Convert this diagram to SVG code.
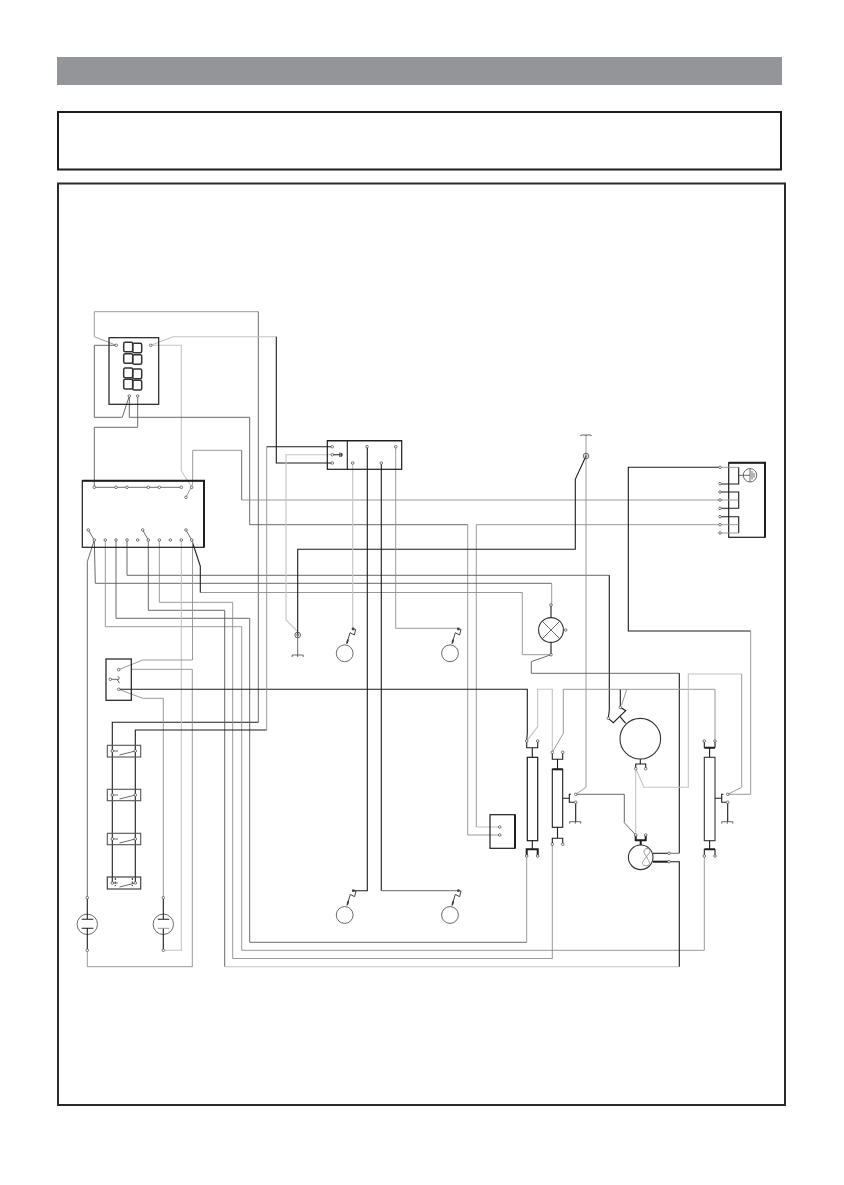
<svg xmlns="http://www.w3.org/2000/svg" width="844" height="1185" viewBox="0 0 844 1185">
<style>
path,line,rect,circle,ellipse{fill:none}
.k{stroke:#1d1d1b;stroke-width:1.1}
.d{stroke:#5a5a5a;stroke-width:.9}
.g{stroke:#8e8e8e;stroke-width:.9}
.l{stroke:#c4c4c4;stroke-width:1.1}
.b{stroke:#1d1d1b;stroke-width:1.2}
.t{stroke:#1d1d1b;stroke-width:2}
.s{stroke:#444;stroke-width:.8}
.p{fill:#fff;stroke:#444;stroke-width:.7}
.dot{fill:#444}
.dg{stroke:#333;stroke-width:1.5}
</style>
<defs>
<circle id="p" class="p" r="1.3"/>
<g id="sw"><path class="s" d="M112.300 0H118M119.500 4L135.300 0"/><circle class="p" cx="112.300" r="1.300"/><circle class="p" cx="135.300" r="1.300"/></g>
<path id="gnd" class="s" d="M-5.500 2V0H5.500V2M0 0V2"/>
<g id="zig"><path stroke="#444" stroke-width="1" d="M0 0L2.700 .3L1.300 6L-3 3.700L-6.300 15"/><path stroke="#333" stroke-width="1.600" d="M-5 10.500L-6 14"/></g>
</defs>
<rect id="header-band" x="57" y="57" width="725" height="28" style="fill:#939598"/>
<rect id="title-box" x="58" y="112" width="723" height="57.500" stroke="#1d1d1b" stroke-width="2"/>
<rect id="frame" x="58" y="183.500" width="727" height="921.500" stroke="#2a2a2a" stroke-width="2"/>
<g id="connectors">
<path class="g" d="M116.300 345.300L94.300 336.700V311.700H258.300"/>
<path class="d" d="M258.300 311.700V722.300"/>
<path class="k" d="M258.300 722.300H112.300V883"/>
<path class="l" d="M150.700 345.300L173.300 336.700H276.300"/>
<path class="k" d="M276.300 336.700V463H332.300"/>
<path class="d" d="M116.300 345.300H94.300V417.300H122.300L129.300 396"/>
<path class="l" d="M150.700 345.300H181.300V470.700L191.700 487.300"/>
<path class="d" d="M129.300 396V417.300H249.700V524.700H467.700"/>
<path class="g" d="M467.700 524.700V835H499.700"/>
<path class="g" d="M476.300 827V524.700H720"/>
<path class="l" d="M476.300 827H499.700"/>
<path class="d" d="M137.700 396V427.300H94.300V487.300"/>
<path class="g" d="M186 497.300L192.700 484V450.300H241.700"/>
<path class="d" d="M241.700 450.300V500"/>
<path class="g" d="M241.700 500H720"/>
<path class="d" d="M94.300 487.300H181.300"/>
<path class="d" d="M88.300 530L94.300 540M142.700 530L148.300 540M186 530L191.700 540"/>
<path class="d" d="M94.300 540L87.300 561.700V897.700"/>
<path class="d" d="M94.300 540L95.300 583.300H551.700"/>
<path class="g" d="M551.700 583.300V605"/>
<path class="g" d="M105.300 540V626.700H241.700"/>
<path class="g" d="M241.700 626.700V950.300H704.300V856"/>
<path class="d" d="M116 540V618.300H249.700V942.300H526.700"/>
<path class="g" d="M526.700 942.300V856"/>
<path class="d" d="M148.300 540V610.300H224.700V966.700"/>
<path class="l" d="M224.700 966.700H679.300"/>
<path class="k" d="M679.300 966.700V861.700H669"/>
<path class="g" d="M159.300 540V602.300H232.700V958.500H552.300V844.300"/>
<path class="d" d="M127 540V575.300H609.300"/>
<path class="k" d="M609.300 575.300V710L608.300 718.300"/>
<path class="g" d="M200.300 592.500H522.300V654.700H551"/>
<path class="k" d="M191.700 540L200.300 566V592.500"/>
<path class="l" d="M181.300 540V950.300H163.300"/>
<path class="g" d="M192.500 540V660H142.700L118.700 669.700"/>
<path class="g" d="M131.300 669.300H192.300V966.700H87.300V950.300"/>
<path class="g" d="M118.700 689.300L142.700 698.300H163.300V897.700"/>
<path class="k" d="M118.700 689.300H527.300V733L526.700 741"/>
<path class="k" d="M135.300 883V730H266.700"/>
<path class="g" d="M266.700 730V446.700"/>
<path class="k" d="M266.700 446.700H332.300"/>
<path class="l" d="M332.300 454.700H286V620L297.700 631.700"/>
<path class="k" d="M297.700 635V549.300H575.300V479.300L586 456"/>
<path class="s" d="M297.700 635V655"/>
<path class="g" d="M586 435V787.300L575.700 794.300"/>
<path class="k" d="M367.300 446.700V890.700H353.300"/>
<path class="k" d="M381.300 463V890.700"/>
<path class="d" d="M381.300 890.700H458.300"/>
<path class="l" d="M352.700 463V629"/>
<path class="g" d="M395.700 446.700V628.300H458.300"/>
<path class="k" d="M720 467.300H628.300V631H750.700"/>
<path class="g" d="M750.700 631V794.300H727.700"/>
<path class="d" d="M551 654.700L531.300 661.700V673.300H679.300"/>
<path class="k" d="M679.300 673.300V853.300"/>
<path class="d" d="M679.300 853.300H669"/>
<path class="l" d="M526.700 741L537.700 726.700V689.300H552.300V752.300"/>
<path class="g" d="M552.300 752.300L563.300 733.300V689.300H620"/>
<path class="k" d="M620.300 689.300V707.300"/>
<path class="g" d="M620 689.300H715V741M626.700 689.300L621.700 705"/>
<path class="l" d="M635.700 768.700L644 787.300H688.300V674H741.700"/>
<path class="g" d="M741.700 674V787.300L727.700 794.300"/>
<path class="l" d="M635.700 768.700V835"/>
<path class="d" d="M575.700 794.300H624.300V822.700L635.700 835"/>
</g>
<g id="display">
<rect class="b" x="109" y="337.700" width="49.700" height="66.600"/>
<rect class="dg" x="123.700" y="342.300" width="9" height="9.400" rx="1.500"/><rect class="dg" x="132.700" y="343.300" width="9" height="9.400" rx="1.500"/>
<rect class="dg" x="123.700" y="353.700" width="9" height="9.600" rx="1.500"/><rect class="dg" x="132.700" y="354.700" width="9" height="9.600" rx="1.500"/>
<rect class="dg" x="123.700" y="368" width="9" height="9.700" rx="1.500"/><rect class="dg" x="132.700" y="369" width="9" height="9.700" rx="1.500"/>
<rect class="dg" x="123.700" y="379.300" width="9" height="9.700" rx="1.500"/><rect class="dg" x="132.700" y="380.300" width="9" height="9.700" rx="1.500"/>
<use href="#p" x="116.300" y="345.300"/><use href="#p" x="150.700" y="345.300"/><use href="#p" x="129.300" y="396"/><use href="#p" x="137.700" y="396"/>
</g>
<g id="controller">
<rect class="b" x="82.300" y="480.700" width="121.700" height="66.600"/>
<path class="t" d="M82.300 480.700H204V547.300"/>
<use href="#p" x="94.300" y="487.300"/><use href="#p" x="116" y="487.300"/><use href="#p" x="127" y="487.300"/><use href="#p" x="148.300" y="487.300"/><use href="#p" x="159.300" y="487.300"/><use href="#p" x="181.300" y="487.300"/><use href="#p" x="191.700" y="487.300"/><use href="#p" x="186" y="497.300"/>
<use href="#p" x="88.300" y="530"/><use href="#p" x="142.700" y="530"/><use href="#p" x="186" y="530"/>
<use href="#p" x="94.300" y="540"/><use href="#p" x="105.300" y="540"/><use href="#p" x="116" y="540"/><use href="#p" x="127" y="540"/><use href="#p" x="137.700" y="540"/><use href="#p" x="148.300" y="540"/><use href="#p" x="159.300" y="540"/><use href="#p" x="170.300" y="540"/><use href="#p" x="181.300" y="540"/><use href="#p" x="191.700" y="540"/>
</g>
<g id="relay">
<rect class="b" x="106" y="659" width="25.300" height="41.300"/>
<path class="s" d="M110.300 679.300H118.700M117.500 676L119.500 678L117.500 680L119.500 683"/>
<use href="#p" x="118.700" y="669.700"/><use href="#p" x="118.700" y="689.300"/><use href="#p" x="110.300" y="679.300"/>
</g>
<g id="switch-1"><rect x="107.300" y="745.300" width="33.400" height="11.700" stroke="#555" stroke-width="1.100"/><use href="#sw" y="751"/></g>
<g id="switch-2"><rect x="107.300" y="789.300" width="33.400" height="11.400" stroke="#555" stroke-width="1.100"/><use href="#sw" y="795"/></g>
<g id="switch-3"><rect x="107.300" y="833.300" width="33.400" height="11.400" stroke="#555" stroke-width="1.100"/><use href="#sw" y="839"/></g>
<g id="switch-4"><rect x="107.300" y="877" width="33.400" height="12" stroke="#444" stroke-width="1.200"/><path d="M115.300 878V886M132.300 878V886" stroke="#222" stroke-width="1" stroke-dasharray="2 1.500"/><use href="#sw" y="883"/></g>
<g id="tube-1"><circle class="s" cx="87.300" cy="924.300" r="10.200"/><path class="k" d="M87.300 897.700V919.300M81.700 919.300H93.300M81.700 928.300H93.300M87.300 928.300V950.300"/><use href="#p" x="87.300" y="897.700"/><use href="#p" x="87.300" y="950.300"/></g>
<g id="tube-2"><circle class="s" cx="163.300" cy="924.300" r="10.200"/><path class="k" d="M163.300 897.700V919.300M157.700 919.300H169.300M163.300 928.300V950.300"/><path class="g" d="M157.700 928.300H169.300"/><use href="#p" x="163.300" y="897.700"/><use href="#p" x="163.300" y="950.300"/></g>
<g id="terminal-block">
<rect class="b" x="327.300" y="440.700" width="74.400" height="28.600"/>
<path class="b" d="M327.300 440.700H401.700" stroke-width="1.500"/>
<path class="k" d="M347.300 440.700V469.300M332.300 454.700H340M340 452.500V457"/>
<path d="M341.500 453V456.500L342.500 454.700Z" stroke="#222" stroke-width=".8"/>
<use href="#p" x="332.300" y="446.700"/><use href="#p" x="332.300" y="454.700"/><use href="#p" x="332.300" y="463"/><use href="#p" x="367" y="446.700"/><use href="#p" x="395.700" y="446.700"/><use href="#p" x="352.700" y="463"/><use href="#p" x="381.300" y="463"/>
</g>
<g id="ground-screw-1"><circle class="s" cx="297.700" cy="635" r="2.800"/><circle cx="297.700" cy="635" r="1.100" stroke="#555" stroke-width=".6"/><use href="#gnd" x="297.700" y="655"/></g>
<g id="ground-screw-2"><circle class="s" cx="586" cy="456" r="2.800"/><circle cx="586" cy="456" r="1.100" stroke="#555" stroke-width=".6"/><path class="s" d="M580.500 436L581 435H591L591.500 436M586 435V436"/></g>
<g id="burner-1"><circle class="s" cx="344.700" cy="653.300" r="8.400"/><use href="#zig" x="353" y="629"/><circle class="dot" cx="353" cy="629" r="1.400"/></g>
<g id="burner-2"><circle class="s" cx="450" cy="653.300" r="8.400"/><use href="#zig" x="458.300" y="629"/><circle class="dot" cx="458.300" cy="629" r="1.400"/></g>
<g id="burner-3"><circle class="s" cx="344.700" cy="915" r="8.400"/><use href="#zig" x="353.300" y="890.700"/><circle class="dot" cx="353.300" cy="890.700" r="1.400"/></g>
<g id="burner-4"><circle class="s" cx="450" cy="915" r="8.400"/><use href="#zig" x="458.300" y="890.700"/><circle class="dot" cx="458.300" cy="890.700" r="1.400"/></g>
<g id="lamp">
<circle stroke="#333" stroke-width="1.100" cx="551" cy="630" r="12.400"/>
<path class="s" d="M542.300 621.300L559.700 638.700M559.700 621.300L542.300 638.700"/>
<path class="k" d="M551 605V617.500M551 642.500V654.700"/>
<use href="#p" x="551" y="605"/><use href="#p" x="551" y="654.700"/><use href="#p" x="565.700" y="630"/>
</g>
<g id="power-filter">
<rect class="b" x="728.700" y="462.700" width="36.300" height="74.600"/>
<path class="t" d="M728.700 462.700H765V537.300"/>
<path class="k" d="M720 484H738.700V467.300M720 492H738.700V508.300H720M720 516.700H738.700V533"/>
<path class="g" d="M720 500H738.700M720 524.700H738.700M720 533H738.700M720 467.300H738.700"/>
<path class="s" d="M738.700 475.300H750M750 468.600V482M752 471V479.500M754 473V477.500"/>
<circle class="s" cx="750" cy="475.300" r="6.700"/>
<use href="#p" x="720" y="467.300"/><use href="#p" x="720" y="483.700"/><use href="#p" x="720" y="492"/><use href="#p" x="720" y="500"/><use href="#p" x="720" y="508.300"/><use href="#p" x="720" y="516.700"/><use href="#p" x="720" y="524.700"/><use href="#p" x="720" y="533"/>
</g>
<g id="box-5">
<rect class="b" x="490" y="814.700" width="25" height="33.600"/>
<path class="t" d="M515 814.700V848.300" stroke-width="1.500"/>
<use href="#p" x="499.700" y="827"/><use href="#p" x="499.700" y="835"/>
</g>
<g id="element-a">
<rect class="b" x="527.300" y="757.300" width="10.400" height="83.400"/>
<path class="k" d="M532.300 757.300V747.700M526.700 741V747.700H537.700V741M532.300 840.700V849.300"/><path class="t" d="M526.700 856V849.300H537.700V856" stroke-width="1.300"/>
<use href="#p" x="526.700" y="741"/><use href="#p" x="537.700" y="741"/><use href="#p" x="526.700" y="856"/><use href="#p" x="537.700" y="856"/>
</g>
<g id="element-b">
<rect class="k" x="552.300" y="769.300" width="10.400" height="58"/>
<path class="t" d="M552.300 769.300H562.700"/>
<path class="k" d="M557.500 769.300V759.300M552.300 752.300V759.300H562.700V752.300M557.500 827.300V838.300M552.300 844.300V838.300H562.700V844.300M562.700 798.300H569.300M571 794.300H569.300V802.300H575.700V821.700"/>
<use href="#gnd" x="575.200" y="821.700"/>
<use href="#p" x="552.300" y="752.300"/><use href="#p" x="562.700" y="752.300"/><use href="#p" x="552.300" y="844.300"/><use href="#p" x="562.700" y="844.300"/><use href="#p" x="575.700" y="794.300"/><use href="#p" x="575.700" y="802.300"/>
</g>
<g id="element-c">
<rect x="704.300" y="757.300" width="10.700" height="83.400" stroke="#333" stroke-width="1.100"/>
<path class="t" d="M704.300 747.700H715M704.300 849.300H715"/>
<path class="k" d="M709.600 757.300V747.700M704.300 741V747.700M715 741V747.700M709.600 840.700V849.300M704.300 856V849.300M715 856V849.300M715 798.300H721.700M723.500 794.300H721.700V802.300H727.700V821.700"/>
<use href="#gnd" x="727.300" y="821.700"/>
<use href="#p" x="704.300" y="741"/><use href="#p" x="715" y="741"/><use href="#p" x="704.300" y="856"/><use href="#p" x="715" y="856"/><use href="#p" x="727.700" y="794.300"/><use href="#p" x="727.700" y="802.300"/>
</g>
<g id="motor">
<circle stroke="#333" stroke-width="1.100" cx="640.300" cy="738.700" r="20.300"/>
<path class="k" d="M608.300 718.300L613.300 722.700L625.700 710.700L620.300 707.300M620 716.700L625.700 723.300"/>
<path class="k" d="M640.300 759V764M635.700 768.700V764H645.700V768.700"/>
<use href="#p" x="608.300" y="718.300"/><use href="#p" x="620.300" y="707.300"/><use href="#p" x="635.700" y="768.700"/><use href="#p" x="645.700" y="768.700"/>
</g>
<g id="fan">
<circle stroke="#333" stroke-width="1.100" cx="640.700" cy="857.300" r="12.300"/>
<path class="g" d="M650 850.500C649.500 847.500 644.500 848 644 851C643.500 854 650 860.500 649.500 863.500C649 866.500 643 866.500 642.500 863.500C642 860.500 650.500 853.500 650 850.500Z"/>
<path class="t" d="M635.700 835V840.300H645.700V835M640.700 840.300V845" stroke-width="1.300"/>
<path class="k" d="M653 853.300H669"/><path class="t" d="M653 861.700H669" stroke-width="1.500"/>
<use href="#p" x="635.700" y="835"/><use href="#p" x="645.700" y="835"/><use href="#p" x="669" y="853.300"/><use href="#p" x="669" y="861.700"/>
</g>
</svg>
